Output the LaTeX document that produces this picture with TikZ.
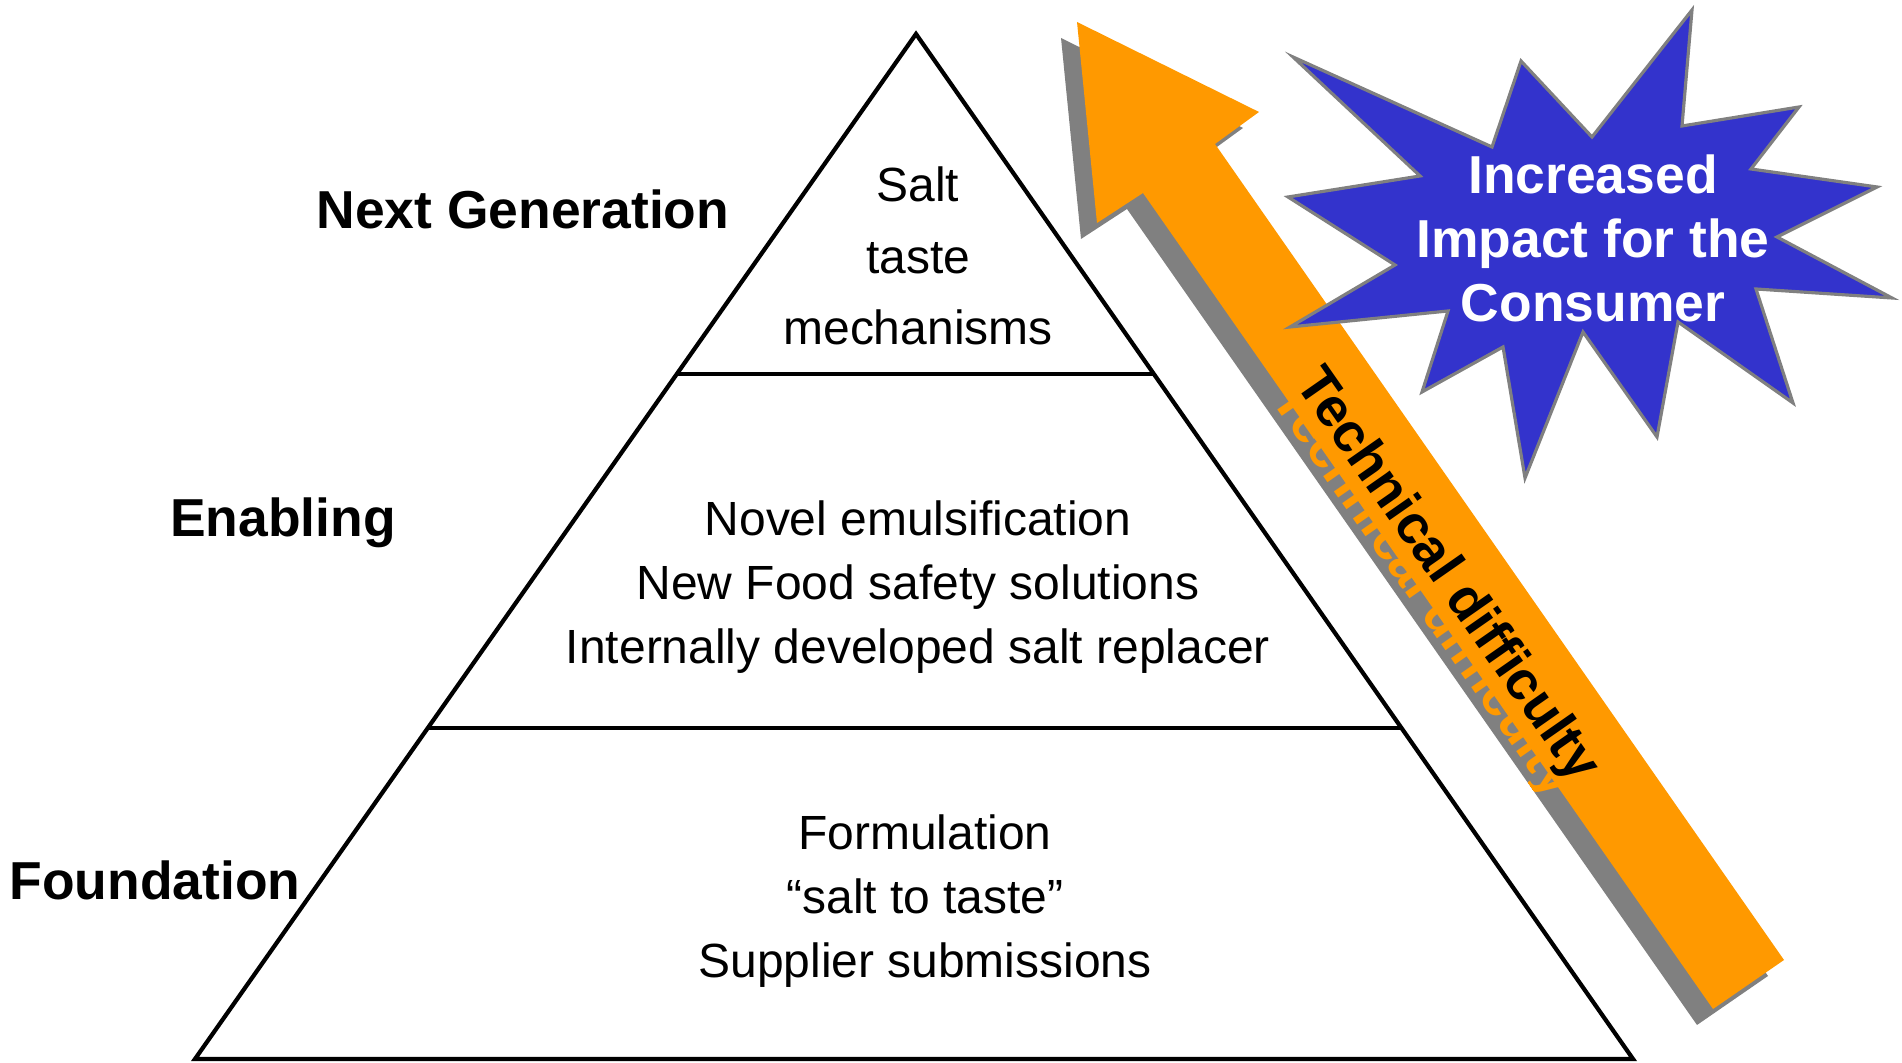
\documentclass[tikz,border=0pt]{standalone}
\usepackage{fontspec}
\setmainfont{Liberation Sans}
\usepackage{tikz}
\usetikzlibrary{calc,positioning}
\definecolor{arrow orange}{HTML}{FF9900}
\definecolor{star blue}{HTML}{3333CC}
\definecolor{shadow grey}{HTML}{808080}
\tikzset{
    pyramid line/.style={black,line width=1.2pt,line join=miter},
    layer text/.style={align=center,font=\fontsize{13.65}{18.2}\selectfont},
    level label/.style={font=\fontsize{15.2}{18}\selectfont\bfseries},
    star style/.style={fill=star blue,draw=shadow grey,line width=0.9pt,line join=miter},
    star text/.style={white,align=center,font=\fontsize{15.2}{18.2}\selectfont\bfseries},
    difficulty text/.style={font=\fontsize{15.5}{18}\selectfont\bfseries,rotate=-55.1},
}

\begin{document}
\begin{tikzpicture}
        \useasboundingbox (0,0) rectangle (19.02,10.63);
        % pyramid
        \coordinate (apex) at (9.16,10.29);
        \coordinate (bl) at (1.95,0.04);
        \coordinate (br) at (16.33,0.04);
        \draw[pyramid line] (apex) -- (bl) -- (br) -- cycle;
        \draw[pyramid line] ($(apex)!0.332!(bl)$) -- ($(apex)!0.332!(br)$);
        \draw[pyramid line] ($(apex)!0.677!(bl)$) -- ($(apex)!0.677!(br)$);

        \node[layer text,font=\fontsize{13.65}{20.4}\selectfont] (mechanisms) at (9.18,8.07) {Salt\\taste\\mechanisms};
        \node[layer text] (enabling text) at (9.18,4.76) {Novel emulsification\\New Food safety solutions\\Internally developed salt replacer};
        \node[layer text] (foundation text) at (9.25,1.62) {Formulation\\“salt to taste”\\Supplier submissions};

        \node[level label] (next gen) at (5.23,8.54) {Next Generation};
        \node[level label] (enabling) at (2.83,5.40) {Enabling};
        \node[level label] (foundation) at (1.55,1.83) {Foundation};

        % arrow with its shadow
        \foreach \off/\col in {-0.16/shadow grey,0/arrow orange}
            \fill[\col,shift={(\off,\off)}] (10.77,10.41) -- (12.59,9.51) -- (12.15,9.19) -- (17.84,1.03)
                -- (17.13,0.54) -- (11.43,8.70) -- (10.97,8.40) -- cycle;
        \begin{scope}
            \clip[shift={(-0.16,-0.16)}] (10.77,10.41) -- (12.59,9.51) -- (12.15,9.19) -- (17.84,1.03)
                -- (17.13,0.54) -- (11.43,8.70) -- (10.97,8.40) -- cycle;
            \node[difficulty text,arrow orange] (difficulty shadow) at (14.22,4.71) {Technical difficulty};
        \end{scope}
        \node[difficulty text] (difficulty) at (14.46,4.87) {Technical difficulty};

        % star
        \draw[star style] (16.92,10.53) -- (16.82,9.37) -- (17.99,9.56) -- (17.51,8.94) -- (18.77,8.76)
            -- (17.77,8.26) -- (18.92,7.65) -- (17.56,7.74) -- (17.93,6.60) -- (16.78,7.41)
            -- (16.57,6.26) -- (15.83,7.31) -- (15.25,5.85) -- (15.03,7.16) -- (14.22,6.71)
            -- (14.48,7.52) -- (12.90,7.36) -- (13.95,7.98) -- (12.88,8.66) -- (14.20,8.87)
            -- (12.93,10.06) -- (14.92,9.16) -- (15.21,10.02) -- (15.92,9.26) -- cycle;
        \node[star text] (impact) at (15.93,8.25) {Increased\\Impact for the\\Consumer};
    \end{tikzpicture}
\end{document}
